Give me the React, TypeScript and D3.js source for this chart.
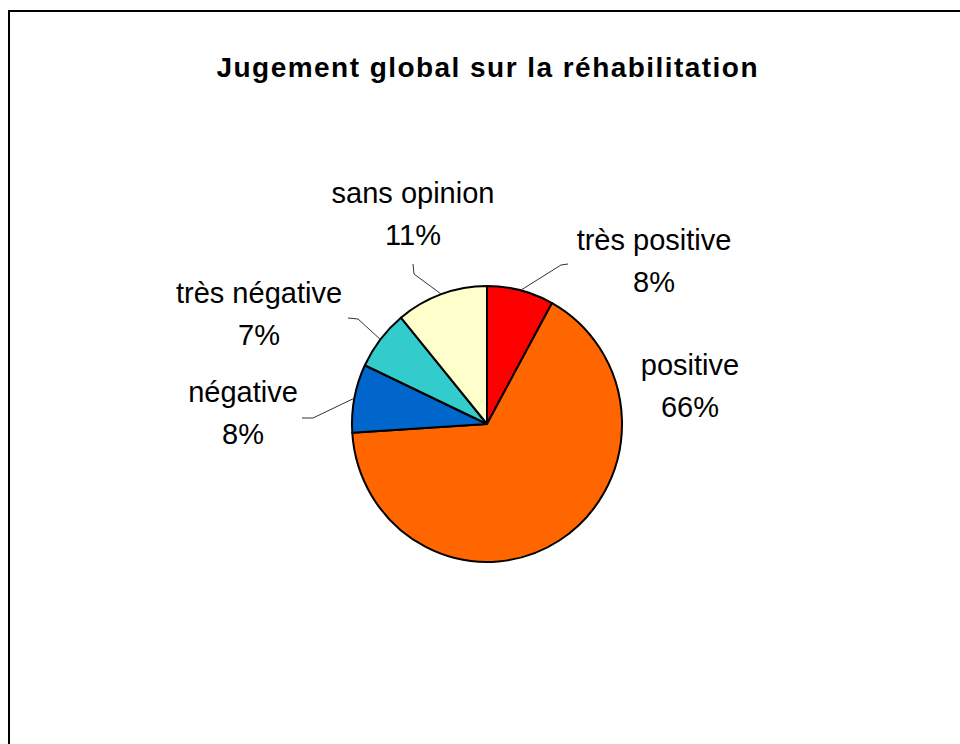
import React from "react";
import * as d3 from "d3";

const categories = ["très positive", "positive", "négative", "très négative", "sans opinion"];
const values = [8, 66, 8, 7, 11];
const percentLabels = ["8%", "66%", "8%", "7%", "11%"];
const colors = ["#FF0000", "#FF6600", "#0066CC", "#33CCCC", "#FFFFCC"];

const W = 960;
const H = 744;
const CX = 487;
const CY = 424;
const R = 138;
const RX = 135;

// label anchor (center x, first baseline y) and leader elbow points
const labelLayout = [
  { x: 654, y: 250, elbow: [[561, 265], [568, 264]] },
  { x: 690, y: 375, elbow: null },
  { x: 243, y: 402, elbow: [[313, 418], [302, 418]] },
  { x: 259, y: 303, elbow: [[358, 319], [348, 318]] },
  { x: 413, y: 203, elbow: [[414, 274], [413, 264]] },
];

export default function App() {
  const pie = d3
    .pie<number>()
    .sort(null)
    .value((d) => d);
  const arcs = pie(values);
  const arc = d3.arc<d3.PieArcDatum<number>>().innerRadius(0).outerRadius(R);
  const font = "'Liberation Sans', Arial, sans-serif";

  return (
    <svg
      width={W}
      height={H}
      style={{ position: "absolute", left: 0, top: 0, background: "#fff" }}
    >
      <rect x={9} y={11} width={W + 20} height={H + 20} fill="#fff" stroke="#000" strokeWidth={2} />
      <text
        x={487}
        y={77}
        textAnchor="middle"
        fontFamily={font}
        fontWeight="bold"
        fontSize={28}
        textLength={541}
        lengthAdjust="spacing"
      >
        Jugement global sur la réhabilitation
      </text>
      <g transform={`translate(${CX},${CY}) scale(${RX / R},1)`}>
        {arcs.map((a, i) => (
          <path
            key={i}
            d={arc(a) || ""}
            fill={colors[i]}
            stroke="#000"
            strokeWidth={2}
            strokeLinejoin="round"
            vectorEffect="non-scaling-stroke"
          />
        ))}
      </g>
      {arcs.map((a, i) => {
        const L = labelLayout[i];
        if (!L.elbow) return null;
        const mid = (a.startAngle + a.endAngle) / 2;
        const px = CX + RX * Math.sin(mid);
        const py = CY - R * Math.cos(mid);
        const pts = [[px, py], ...L.elbow];
        const line = d3.line()(pts as [number, number][]);
        return <path key={"l" + i} d={line || ""} fill="none" stroke="#333" strokeWidth={1} />;
      })}
      {categories.map((c, i) => {
        const L = labelLayout[i];
        return (
          <g key={"t" + i} fontFamily={font} fontSize={29} fill="#000" textAnchor="middle">
            <text x={L.x} y={L.y}>{c}</text>
            <text x={L.x} y={L.y + 42}>{percentLabels[i]}</text>
          </g>
        );
      })}
    </svg>
  );
}
